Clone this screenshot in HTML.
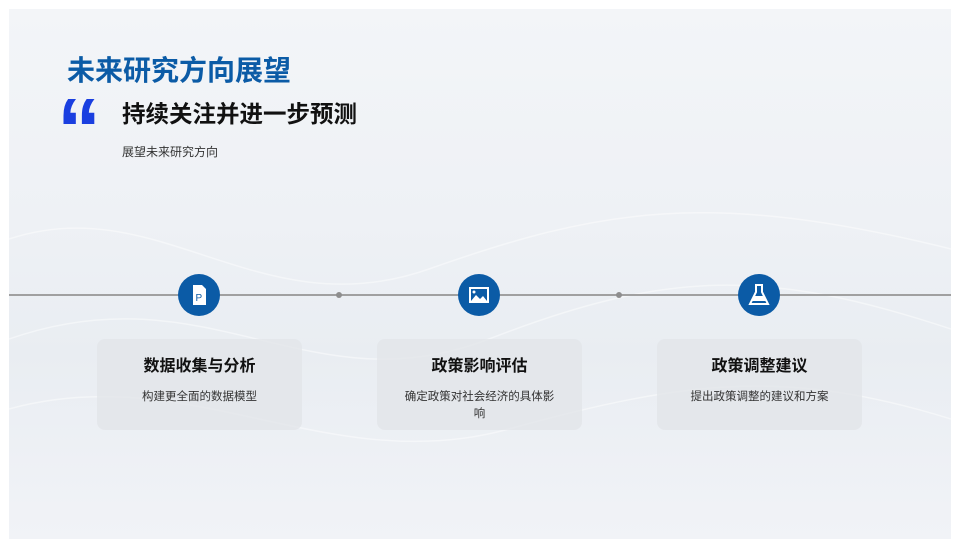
<!DOCTYPE html>
<html><head><meta charset="utf-8"><style>
*{margin:0;padding:0;box-sizing:border-box}
body{width:960px;height:548px;background:#fff;position:relative;overflow:hidden;font-family:"Liberation Sans","Noto Sans CJK SC",sans-serif}
.slide{position:absolute;left:9px;top:9px;width:942px;height:530px;background:linear-gradient(180deg,#f3f5f8 0%,#eef1f5 40%,#e9edf2 65%,#f1f3f7 100%);overflow:hidden}
.t{position:absolute;white-space:nowrap}
.circle{position:absolute;width:42px;height:42px;border-radius:50%;background:#0b5ba6;top:274px}
.dot{position:absolute;width:6px;height:6px;border-radius:50%;background:#8e8e8e;top:292px}
.card{position:absolute;top:339px;width:205px;height:91px;background:rgba(225,228,232,0.75);border-radius:8px;text-align:center}
.card h3{font-size:16px;font-weight:bold;color:#111;margin-top:13px}
.card p{font-size:11.5px;color:#333;margin:13px auto 0;width:160px;line-height:17px}
</style></head><body>
<div class="slide">
<svg width="942" height="530" style="position:absolute;left:0;top:0" fill="none" stroke="#fff" stroke-opacity="0.45">
<path d="M0 230 C150 180 250 320 420 260 S700 180 942 240" stroke-width="1.5"/>
<path d="M0 330 C200 260 300 400 480 330 S760 260 942 320" stroke-width="1.5"/>
<path d="M0 400 C180 350 320 470 500 420 S780 360 942 410" stroke-width="1.5"/>
</svg>
</div>
<div class="t" style="left:67px;top:49px;font-size:28px;font-weight:bold;color:#0b5ba6">未来研究方向展望</div>
<div class="t" style="left:57px;top:86px;font-size:88px;font-weight:bold;color:#1a3fe0;line-height:88px">“</div>
<div class="t" style="left:122px;top:95px;font-size:23.5px;font-weight:bold;color:#111">持续关注并进一步预测</div>
<div class="t" style="left:122px;top:143px;font-size:12px;color:#333">展望未来研究方向</div>
<div style="position:absolute;left:9px;top:294px;width:942px;height:2px;background:#a0a0a0"></div>
<div class="dot" style="left:336px"></div>
<div class="dot" style="left:616px"></div>
<div class="circle" style="left:178px"><svg width="42" height="42"><path d="M15 11h9l4 4v16h-13z" fill="#fff"/><text x="17.5" y="27" font-size="10" fill="#0b5ba6" font-family="Liberation Sans">P</text></svg></div>
<div class="circle" style="left:458px"><svg width="42" height="42"><rect x="11" y="13" width="20" height="16" fill="#fff"/><rect x="13" y="15" width="16" height="12" fill="#0b5ba6"/><circle cx="16" cy="18" r="1.5" fill="#fff"/><path d="M13 27l5-6 4 4 3-3 4 5z" fill="#fff"/></svg></div>
<div class="circle" style="left:738px"><svg width="42" height="42"><path d="M17 11h8M18 11v7l-6 12h18l-6-12v-7" stroke="#fff" stroke-width="2" fill="none"/><path d="M14 27l3-5h8l3 5z" fill="#fff"/></svg></div>
<div class="card" style="left:97px"><h3>数据收集与分析</h3><p>构建更全面的数据模型</p></div>
<div class="card" style="left:377px"><h3>政策影响评估</h3><p>确定政策对社会经济的具体影响</p></div>
<div class="card" style="left:657px"><h3>政策调整建议</h3><p>提出政策调整的建议和方案</p></div>
</body></html>
